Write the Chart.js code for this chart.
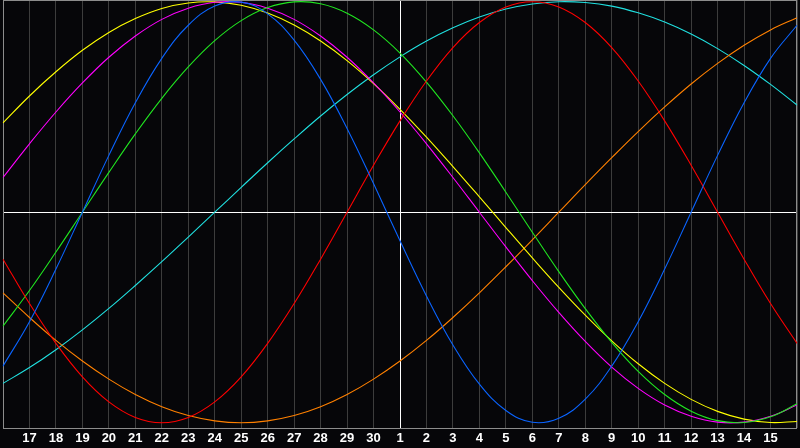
<!DOCTYPE html>
<html><head><meta charset="utf-8">
<script src="https://cdn.jsdelivr.net/npm/chart.js@4/dist/chart.umd.min.js"></script>
<style>html,body{margin:0;padding:0;background:#060609;}canvas{display:block;}</style>
</head><body>
<canvas id="c" width="800" height="448"></canvas>
<script>
// Day labels (previous month 16..30, current month 1..16)
const dayLabels = ['16','17','18','19','20','21','22','23','24','25','26','27','28','29','30',
  '1','2','3','4','5','6','7','8','9','10','11','12','13','14','15','16'];

// Cycle values (-1 .. 1), one per day
const physical = [-0.731,-0.520,-0.270,0,0.270,0.520,0.731,0.888,0.979,0.998,0.942,0.817,0.631,0.398,0.136,
  -0.136,-0.398,-0.631,-0.817,-0.942,-0.998,-0.979,-0.888,-0.731,-0.520,-0.270,0,0.270,0.520,0.731,0.888];
const emotional = [-0.223,-0.434,-0.623,-0.782,-0.901,-0.975,-1,-0.975,-0.901,-0.782,-0.623,-0.434,-0.223,0,0.223,
  0.434,0.623,0.782,0.901,0.975,1,0.975,0.901,0.782,0.623,0.434,0.223,0,-0.223,-0.434,-0.623];
const intellectual = [-0.541,-0.372,-0.189,0,0.189,0.372,0.541,0.690,0.815,0.910,0.972,0.999,0.990,0.945,0.866,
  0.756,0.618,0.458,0.282,0.095,-0.095,-0.282,-0.458,-0.618,-0.756,-0.866,-0.945,-0.990,-0.999,-0.972,-0.910];
const intuitive = [0.165,0.325,0.476,0.614,0.736,0.837,0.916,0.969,0.997,0.997,0.969,0.916,0.837,0.736,0.614,
  0.476,0.325,0.165,0,-0.165,-0.325,-0.476,-0.614,-0.736,-0.837,-0.916,-0.969,-0.997,-0.997,-0.969,-0.916];
const aesthetic = [0.424,0.552,0.667,0.769,0.854,0.920,0.968,0.994,0.999,0.983,0.946,0.889,0.813,0.720,0.611,
  0.489,0.357,0.217,0.073,-0.073,-0.217,-0.357,-0.489,-0.611,-0.720,-0.813,-0.889,-0.946,-0.983,-0.999,-0.994];
const awareness = [-0.383,-0.500,-0.609,-0.707,-0.793,-0.866,-0.924,-0.966,-0.991,-1,-0.991,-0.966,-0.924,-0.866,-0.793,
  -0.707,-0.609,-0.500,-0.383,-0.259,-0.131,0,0.131,0.259,0.383,0.500,0.609,0.707,0.793,0.866,0.924];
const spiritual = [-0.813,-0.738,-0.653,-0.559,-0.457,-0.348,-0.235,-0.118,0,0.118,0.235,0.348,0.457,0.559,0.653,
  0.738,0.813,0.876,0.927,0.965,0.989,1.000,0.996,0.979,0.947,0.903,0.846,0.777,0.697,0.607,0.509];

const todayIndex = dayLabels.indexOf('1');

const series = [
  {name:'Physical', data: physical, color:'#0a64ff'},
  {name:'Emotional', data: emotional, color:'#ff0000'},
  {name:'Intellectual', data: intellectual, color:'#20e620'},
  {name:'Intuitive', data: intuitive, color:'#ff00ff'},
  {name:'Aesthetic', data: aesthetic, color:'#ffff00'},
  {name:'Awareness', data: awareness, color:'#ff8000'},
  {name:'Spiritual', data: spiritual, color:'#20e0e0'}
];

const bgPlugin = {
  id: 'bg',
  beforeDraw(chart) {
    const c = chart.ctx;
    c.save();
    c.fillStyle = '#060609';
    c.fillRect(0, 0, chart.width, chart.height);
    c.restore();
  },
  beforeDatasetsDraw(chart) {
    const a = chart.chartArea, c = chart.ctx;
    c.save();
    c.strokeStyle = '#8c8c8c';
    c.lineWidth = 1;
    c.strokeRect(a.left + 0.5, a.top + 0.5, a.right - a.left - 1, a.bottom - a.top);
    c.restore();
  }
};

new Chart(document.getElementById('c'), {
  type: 'line',
  data: {
    labels: dayLabels,
    datasets: series.map(s => ({
      label: s.name,
      data: s.data,
      borderColor: s.color,
      borderWidth: 1.1,
      pointRadius: 0,
      tension: 0.4,
      fill: false
    }))
  },
  options: {
    responsive: false,
    animation: false,
    layout: {padding: 0},
    plugins: {legend: {display: false}, tooltip: {enabled: false}},
    scales: {
      x: {
        type: 'category',
        offset: false,
        border: {display: false},
        grid: {
          drawTicks: false,
          color: ctx => ctx.index === todayIndex ? '#ffffff' : '#3c3c3c',
          lineWidth: 1
        },
        ticks: {
          autoSkip: false,
          maxRotation: 0,
          minRotation: 0,
          padding: 3,
          color: '#ffffff',
          font: {family: 'Liberation Sans', weight: 'bold', size: 13},
          callback: function(v, i) { return (i === 0 || i === dayLabels.length - 1) ? '' : dayLabels[i]; }
        },
        afterFit: s => { s.height = 20; }
      },
      y: {
        min: -1.025,
        max: 1.008,
        border: {display: false},
        grid: {
          drawTicks: false,
          color: ctx => (ctx.tick && ctx.tick.value === 0) ? '#ffffff' : 'rgba(0,0,0,0)',
          lineWidth: 1
        },
        ticks: {display: false, stepSize: 0.5},
        afterFit: s => { s.width = 0; }
      }
    }
  },
  plugins: [bgPlugin]
});
</script>
</body></html>
